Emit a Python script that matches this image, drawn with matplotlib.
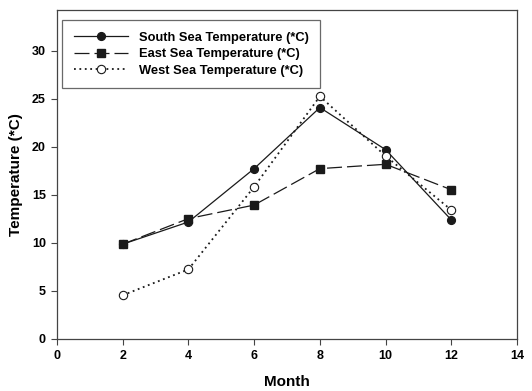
import matplotlib
matplotlib.use("Agg")
import matplotlib.pyplot as plt

plt.rcParams['font.family'] = ['Liberation Sans', 'DejaVu Sans']
plt.rcParams['font.weight'] = 'bold'

months = [2, 4, 6, 8, 10, 12]
south = [9.86, 12.17, 17.72, 24.07, 19.69, 12.38]
east = [9.86, 12.52, 13.93, 17.72, 18.17, 15.52]
west = [4.55, 7.24, 15.83, 25.24, 19.03, 13.41]
labels = ['South Sea Temperature (*C)', 'East Sea Temperature (*C)', 'West Sea Temperature (*C)']

fig = plt.figure(figsize=(5.32, 3.91), dpi=100)
ax = fig.add_axes([0.107, 0.133, 0.865, 0.841])

c = '#1a1a1a'
ax.plot(months, south, color=c, lw=0.9, ls='-', marker='o', ms=5.6, mfc=c, mec=c, label=labels[0])
ax.plot(months, east, color=c, lw=0.9, ls=(0, (12, 4)), marker='s', ms=5.2, mfc=c, mec=c, label=labels[1])
ax.plot(months, west, color=c, lw=1.3, ls=(0, (1, 2)), marker='o', ms=6, mfc='white', mec=c, mew=0.8, label=labels[2])

ax.set_xlim(0, 14)
ax.set_ylim(0, 34.2)
ax.set_xticks(range(0, 15, 2))
ax.set_yticks(range(0, 31, 5))
ax.tick_params(direction='out', length=4, width=0.8, color='#444444', labelsize=9, pad=4)
for s in ax.spines.values():
    s.set_color('#444444')
    s.set_linewidth(0.9)
ax.set_xlabel('Month', fontsize=11, fontweight='bold', labelpad=9)
ax.set_ylabel('Temperature (*C)', fontsize=11, fontweight='bold', labelpad=6)

leg = ax.legend(loc='upper left', bbox_to_anchor=(0.011, 0.97), borderaxespad=0, fontsize=9.3,
                handlelength=4.2, handletextpad=0.85, frameon=True, fancybox=False,
                borderpad=0.9, labelspacing=0.35)
leg.get_frame().set_edgecolor('#444444')
leg.get_frame().set_linewidth(0.9)

fig.savefig('out.png', dpi=100)
